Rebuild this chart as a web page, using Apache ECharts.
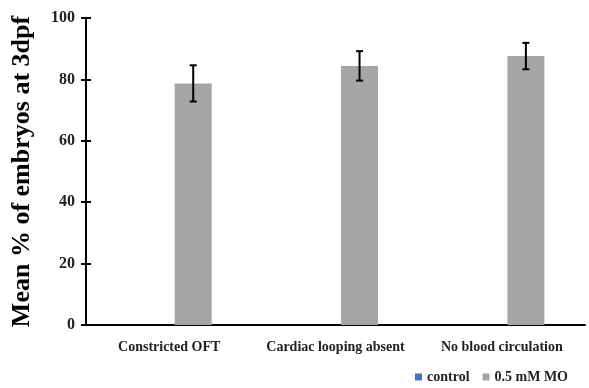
<!DOCTYPE html>
<html><head><meta charset="utf-8">
<script src="https://cdn.jsdelivr.net/npm/echarts@6/dist/echarts.min.js"></script>
<style>html,body{margin:0;padding:0;background:#fff}#c{width:589px;height:388px}</style>
</head><body><div id="c"></div>
<script>
const categories = ['Constricted OFT', 'Cardiac looping absent', 'No blood circulation'];
const controlValues = [0, 0, 0];
const moValues = [78.7, 84.4, 87.6];
const moErrors = [5.9, 4.8, 4.3];
const yTicks = [0, 20, 40, 60, 80, 100];

const FONT = 'Liberation Serif';
const chart = echarts.init(document.getElementById('c'));
const BAR_W = 37, GAP = '30%';
chart.setOption({
  animation: false,
  grid: {left: 86, right: 4, top: 18, bottom: 63},
  legend: {
    right: 16, bottom: -1, itemWidth: 7, itemHeight: 7, itemGap: 13,
    icon: 'rect',
    textStyle: {fontFamily: FONT, fontWeight: 'bold', fontSize: 14, color: '#222'},
    data: ['control', '0.5 mM MO']
  },
  xAxis: {
    type: 'category', data: categories,
    axisLine: {lineStyle: {color: '#000', width: 2}},
    axisTick: {show: false},
    axisLabel: {interval: 0, fontFamily: FONT, fontWeight: 'bold', fontSize: 14, color: '#222', margin: 15}
  },
  yAxis: [{
    type: 'value', min: yTicks[0], max: yTicks[yTicks.length - 1], interval: 20,
    name: 'Mean % of embryos at 3dpf', nameLocation: 'middle', nameGap: 51,
    nameTextStyle: {fontFamily: FONT, fontWeight: 'bold', fontSize: 26, color: '#000'},
    axisLine: {show: true, lineStyle: {color: '#000', width: 2}},
    axisTick: {show: true, length: 5, lineStyle: {color: '#000', width: 2}},
    axisLabel: {fontFamily: FONT, fontWeight: 'bold', fontSize: 16, color: '#222', margin: 11},
    splitLine: {show: false}
  }, {
    type: 'value', min: 0, max: 100, interval: 20, position: 'left',
    axisLine: {show: false},
    axisTick: {show: true, inside: true, length: 5, lineStyle: {color: '#000', width: 2}},
    axisLabel: {show: false}, splitLine: {show: false}
  }],
  series: [
    {name: 'control', type: 'bar', data: controlValues, barWidth: BAR_W, barGap: GAP,
     itemStyle: {color: '#4472C4'}},
    {name: '0.5 mM MO', type: 'bar', data: moValues, barWidth: BAR_W, barGap: GAP,
     itemStyle: {color: '#A5A5A5'}},
    {name: 'err', type: 'custom', z: 10,
     data: moValues.map((v, i) => [i, v - moErrors[i], v + moErrors[i]]),
     renderItem: function (params, api) {
       const i = api.value(0);
       const lo = api.coord([i, api.value(1)]);
       const hi = api.coord([i, api.value(2)]);
       const x = lo[0] + (BAR_W + BAR_W * 0.3) / 2;
       const hw = 3.5;
       const st = {stroke: '#000', lineWidth: 2};
       return {type: 'group', children: [
         {type: 'line', shape: {x1: x, y1: lo[1], x2: x, y2: hi[1]}, style: st},
         {type: 'line', shape: {x1: x - hw, y1: lo[1], x2: x + hw, y2: lo[1]}, style: st},
         {type: 'line', shape: {x1: x - hw, y1: hi[1], x2: x + hw, y2: hi[1]}, style: st}
       ]};
     }}
  ]
});
</script></body></html>
